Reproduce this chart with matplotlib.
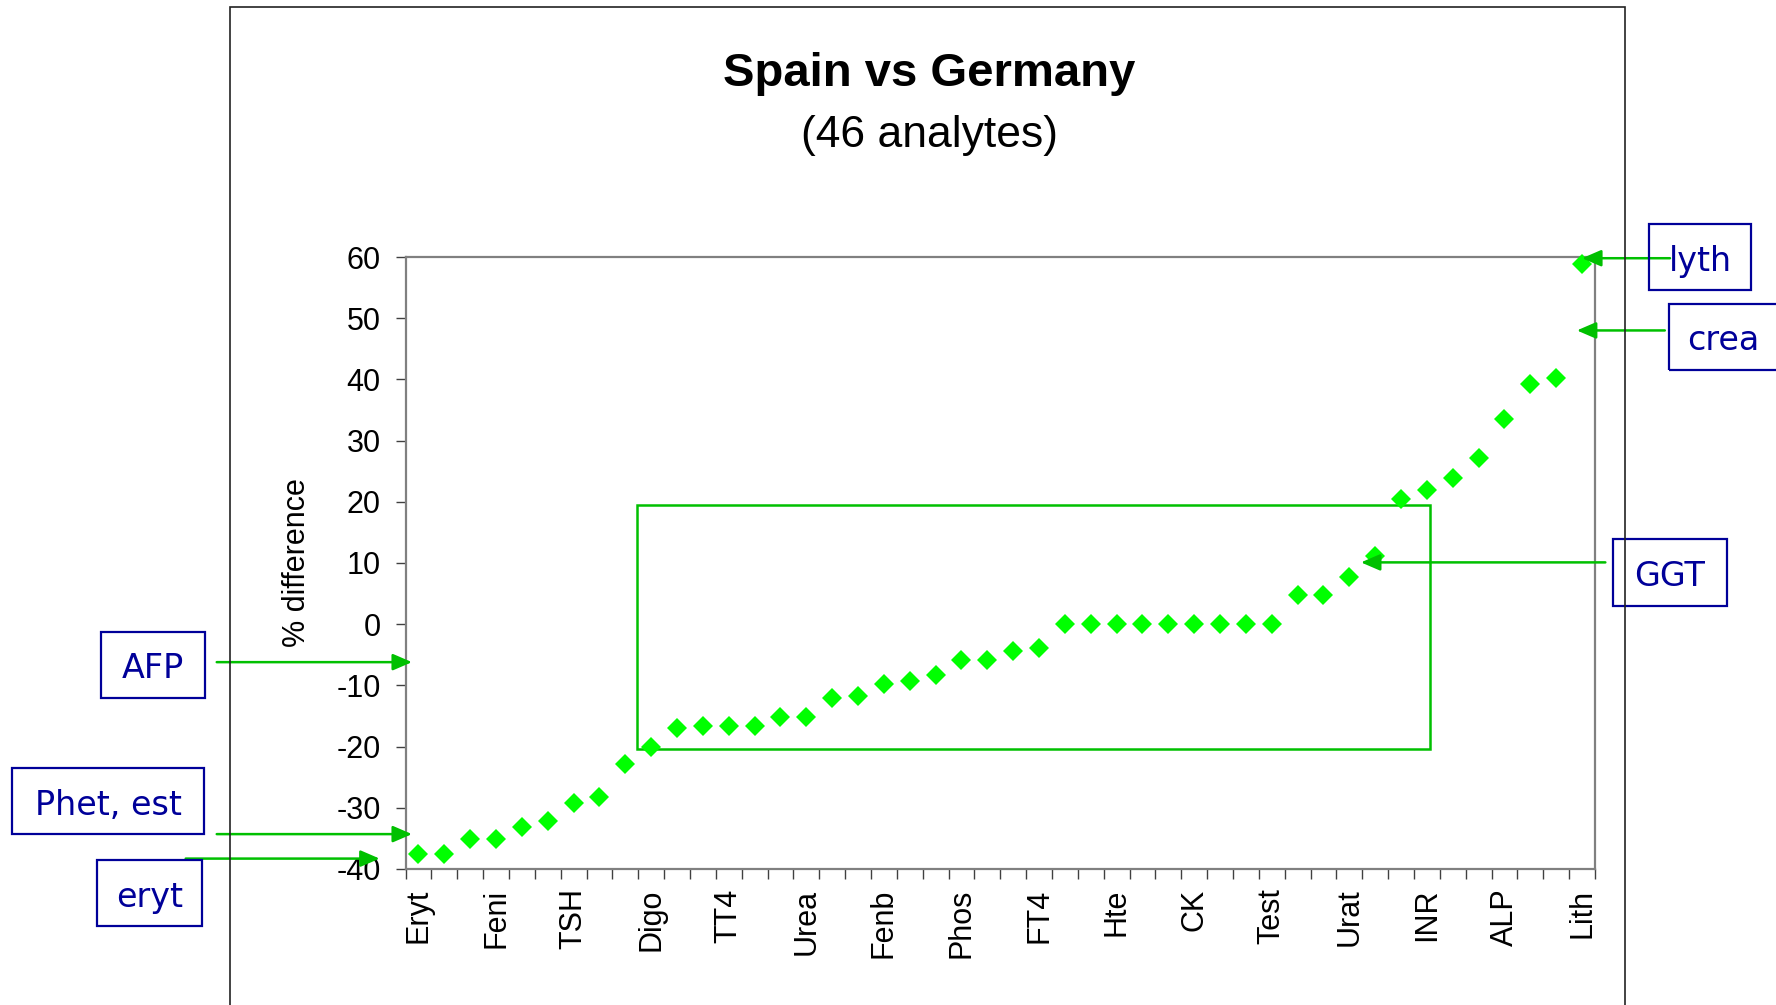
import matplotlib.pyplot as plt
from matplotlib.patches import Rectangle

# % difference Spain vs Germany, 46 analytes sorted
pct_diff = [-37.5, -37.5, -35.1, -35.1, -33.1, -32.1, -29.2, -28.2, -22.9, -20.0,
            -17.0, -16.6, -16.6, -16.6, -15.1, -15.1, -12.1, -11.7, -9.7, -9.3,
            -8.3, -5.8, -5.8, -4.4, -3.9, 0, 0, 0, 0, 0,
            0, 0, 0, 0, 4.8, 4.8, 7.7, 11.1, 20.5, 21.9,
            23.9, 27.2, 33.5, 39.3, 40.3, 58.8]
tick_names = ["Eryt", "Feni", "TSH", "Digo", "TT4", "Urea", "Fenb", "Phos",
              "FT4", "Hte", "CK", "Test", "Urat", "INR", "ALP", "Lith"]
label_every = 3

# callouts: text, box (x0, y0, x1, y1 in pixels from top-left), arrow tail and tip (data)
callouts = [
    ("AFP", (101, 632, 205, 698), (-7.8, -6.2), (-0.25, -6.2)),
    ("Phet, est", (12, 768, 204, 834), (-7.8, -34.3), (-0.25, -34.3)),
    ("eryt", (97, 860, 202, 926), (-9.0, -38.3), (-1.5, -38.3)),
    ("lyth", (1649, 224, 1751, 290), (48.4, 59.8), (45.0, 59.8)),
    ("crea", (1669, 304, 1778, 370), (48.2, 48.0), (44.8, 48.0)),
    ("GGT", (1613, 539, 1727, 606), (45.9, 10.1), (36.45, 10.1)),
]
W, H = 1776, 1005

plt.rcParams['font.family'] = ['Liberation Sans', 'DejaVu Sans']
plt.rcParams['axes.unicode_minus'] = False
fig = plt.figure(figsize=(W / 100, H / 100), dpi=100)
ax = fig.add_axes([405.5 / W, 1 - 869 / H, 1189.5 / W, 612 / H])

x = list(range(len(pct_diff)))
ax.plot(x, pct_diff, 'D', color='#00ff00', ms=10.5, mew=0, zorder=3, clip_on=False)

ax.set_xlim(-0.5, len(pct_diff) - 0.5)
ax.set_ylim(-40, 60)
ax.set_yticks(range(-40, 61, 10))
ax.set_xticks(x[::label_every])
ax.set_xticklabels(tick_names, rotation=90)
ax.set_xticks([i - 0.5 for i in range(len(pct_diff) + 1)], minor=True)
ax.tick_params(axis='x', which='major', length=0, pad=14, labelsize=22)
ax.tick_params(axis='x', which='minor', length=7, width=1, color='#404040')
ax.tick_params(axis='y', length=7, width=1, color='#404040', pad=11, labelsize=22)
for s in ax.spines.values():
    s.set_color('#808080')
    s.set_linewidth(1.6)

ax.set_ylabel('% difference', fontsize=22)
ax.yaxis.set_label_coords(-0.079, 0.5)

# highlighted region
ax.add_patch(Rectangle((8.45, -20.4), 39.1 - 8.45, 19.4 + 20.4, fill=False,
                       edgecolor='#00c000', lw=1.8, zorder=2))

for text, (x0, y0, x1, y1), tail, tip in callouts:
    ax.annotate('', xy=tip, xytext=tail, annotation_clip=False,
                arrowprops=dict(arrowstyle='-|>,head_length=0.58,head_width=0.25',
                                mutation_scale=20, color='#00c000', lw=1.8,
                                shrinkA=0, shrinkB=0))
    fig.add_artist(Rectangle((x0 / W, 1 - y1 / H), (x1 - x0) / W, (y1 - y0) / H,
                             transform=fig.transFigure, fill=False,
                             edgecolor='#000099', lw=1.6))
    fig.text((x0 + x1) / 2 / W, 1 - ((y0 + y1) / 2 + 4) / H, text, ha='center',
             va='center', fontsize=24, color='#000099', family='DejaVu Sans')

# chart frame
fig.add_artist(Rectangle((230 / W, -0.1), (1625 - 230) / W, 1.1 - 7 / H,
                         transform=fig.transFigure, fill=False,
                         edgecolor='#222222', lw=1.2))

fig.text(929 / W, 1 - 74 / H, 'Spain vs Germany', ha='center', va='center',
         fontsize=34, fontweight='bold')
fig.text(929 / W, 1 - 136 / H, '(46 analytes)', ha='center', va='center', fontsize=32)

fig.savefig('out.png', dpi=100)
